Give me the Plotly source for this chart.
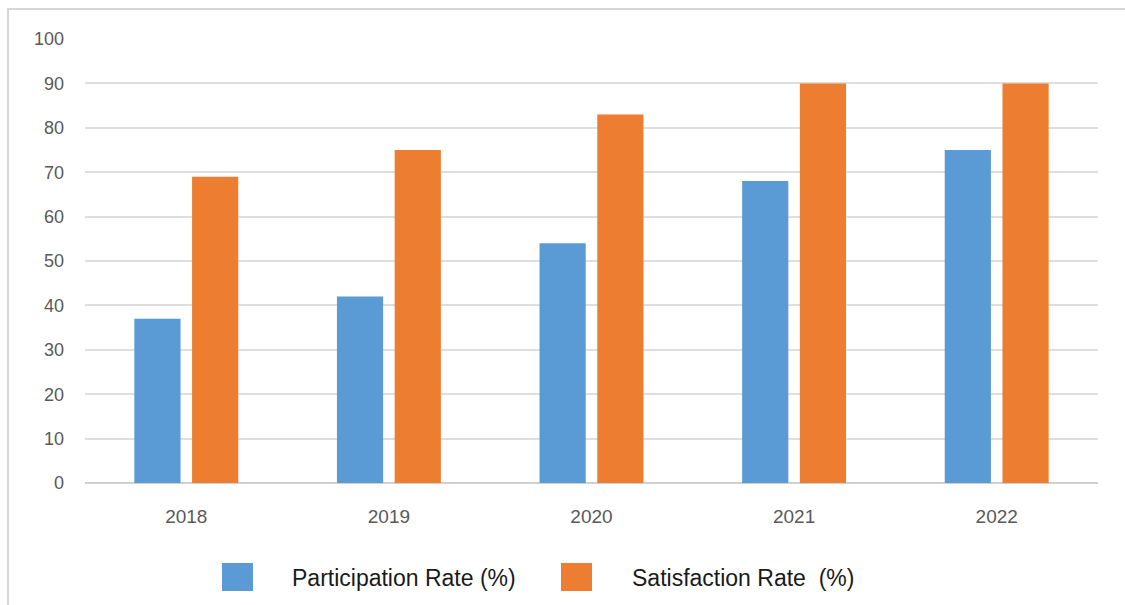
import plotly.graph_objects as go

years = ["2018", "2019", "2020", "2021", "2022"]
participation = [37, 42, 54, 68, 75]
satisfaction = [69, 75, 83, 90, 90]
series_names = ["Participation Rate (%)", "Satisfaction Rate  (%)"]
series_colors = ["#5B9BD5", "#ED7D31"]

W, H = 1125, 605
L, R, T, B = 85, 27, 39, 122
PW, PH = W - L - R, H - T - B


def px_x(x):
    return (x - L) / PW


def px_y(y):
    return (H - B - y) / PH


fig = go.Figure()
for name, vals, color in zip(series_names, [participation, satisfaction], series_colors):
    fig.add_trace(go.Bar(x=years, y=vals, name=name, marker_color=color,
                         marker_line_width=0, showlegend=False))

shapes = [
    # outer chart frame
    dict(type="rect", xref="paper", yref="paper",
         x0=px_x(8), x1=px_x(1140), y0=px_y(620), y1=px_y(9),
         line=dict(color="#d6d6d6", width=2), fillcolor="rgba(0,0,0,0)", layer="below"),
]
annotations = []
legend_items = [(222, 290), (561, 630)]
for (sx, tx), name, color in zip(legend_items, series_names, series_colors):
    shapes.append(dict(type="rect", xref="paper", yref="paper",
                       x0=px_x(sx), x1=px_x(sx + 31), y0=px_y(591), y1=px_y(563),
                       line=dict(width=0), fillcolor=color))
    annotations.append(dict(xref="paper", yref="paper", x=px_x(tx), y=px_y(578),
                            xanchor="left", yanchor="middle", showarrow=False,
                            text=name.replace("  ", " \u00a0"),
                            font=dict(family="Liberation Sans", size=23, color="#1a1a1a")))

fig.update_layout(
    width=W, height=H,
    margin=dict(l=L, r=R, t=T, b=B),
    paper_bgcolor="white", plot_bgcolor="white",
    barmode="group", bargap=0.43, bargroupgap=0.2,
    shapes=shapes, annotations=annotations,
    font=dict(family="Liberation Sans", color="#595959"),
)
fig.update_yaxes(range=[0, 100], dtick=10, showgrid=True, gridcolor="#dedede", gridwidth=2,
                 zeroline=True, zerolinecolor="#d0d0d0", zerolinewidth=2,
                 showline=False, ticks="", ticklabelstandoff=20,
                 tickfont=dict(size=18, color="#595959"))
fig.update_xaxes(showgrid=False, showline=False, ticks="", ticklabelstandoff=20,
                 tickfont=dict(size=19, color="#595959"))

fig.write_html("out.html")
